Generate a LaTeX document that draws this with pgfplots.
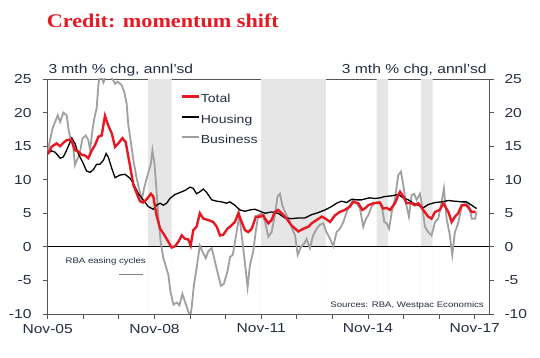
\documentclass[border=0pt]{standalone}
\usepackage{pgfplots}
\pgfplotsset{compat=1.18}
\usepackage{fontspec}
\setmainfont[FakeStretch=1.2]{Liberation Sans}
\newfontfamily\titlefont[FakeStretch=1.15]{Liberation Serif}
\definecolor{wred}{RGB}{230,25,35}
\definecolor{wgray}{RGB}{160,160,160}
\definecolor{shade}{RGB}{230,230,230}
\definecolor{txt}{RGB}{35,45,65}
\definecolor{axc}{RGB}{85,85,85}

\pgfplotstableread{
m v
0 13.8
1.3 14.9
3 15.4
4.2 15.0
5.3 15.5
6.4 15.9
7.9 16.0
9.2 14.4
10.3 14.2
11.5 13.7
12.6 13.6
13.7 13.2
14.8 14.3
16 15.2
17.1 16.4
18.2 16.6
19.3 19.5
20.4 18.1
21.6 16.9
22.7 14.9
23.8 15.4
25.2 16.2
26.3 15.6
27.2 13.4
28.1 11.2
28.9 9.2
30 8.0
31.1 6.8
32.2 6.6
33.4 7.1
34.8 7.9
35.6 7.5
36.7 4.7
37.9 2.7
39 2.0
40.1 1.2
41.8 -0.1
42.9 0.1
44 0.7
45.2 1.7
46.3 1.2
47.4 1.1
48.2 0.2
49.1 2.5
50.2 3.0
51.3 5.0
52.5 4.2
54.1 4.0
55.8 3.7
57 3.0
58.1 1.7
59.2 1.8
60.6 2.7
62 3.2
63.1 3.7
64.3 5.0
65.4 3.7
66.5 2.5
67.6 2.2
68.8 2.7
70.2 4.5
71.6 4.5
72.7 4.7
73.3 4.2
74.4 3.5
75.5 4.0
76.6 5.2
77.7 5.5
78.9 5.0
80.6 4.2
82.2 3.2
84.5 2.3
86.2 2.7
87.9 3.0
89 3.5
90.7 4.0
92.4 4.5
93.7 4.2
95.2 3.7
96.9 4.7
98.5 5.2
100.2 5.5
101.9 6.0
103 6.7
104.7 6.5
106.1 5.5
107.2 5.8
108.1 6.2
109.8 6.5
112 6.6
113.1 5.7
114.3 5.8
115.4 5.5
117.1 6.5
118.2 7.7
118.8 8.2
119.9 7.5
121 6.5
122.7 6.5
123.8 6.2
125 6.5
126.6 5.5
128.3 4.5
129.4 4.2
130.6 5.2
132.2 5.5
133.4 6.5
135.1 5.2
136.2 3.7
137.3 4.5
138.4 5.0
139.6 6.2
141.2 6.2
143 5.2
144.3 5.2
}\total

\pgfplotstableread{
m v
0 13.9
1.3 14.3
2.5 14.1
4.2 13.2
5.3 13.4
6.4 14.4
8.1 16.2
9.2 15.4
10.3 13.9
12 12.4
13.1 11.3
14.3 11.1
15.4 11.5
16.5 12.3
17.6 12.3
18.8 12.9
19.7 13.9
20.4 13.4
21.6 11.7
22.7 10.3
24.4 10.7
26.1 10.8
27.8 10.2
28.9 9.4
30.6 7.9
32.2 7.0
33.9 6.0
35.6 5.6
36.7 6.2
37.9 6.5
39 6.2
40.1 6.5
41.2 7.2
42.9 7.8
44.6 8.1
46.3 8.4
48 8.9
49.1 8.7
50.2 7.9
51.3 8.2
52.5 8.6
53.6 8.1
55.3 7.0
57 6.8
58.6 6.7
60.3 6.5
61.4 6.7
63.1 6.2
64.8 5.5
66.5 5.3
68.2 5.5
69.9 5.6
71.6 5.3
73.3 5.0
75.5 5.2
77.7 5.0
80 4.3
82.2 4.2
84.5 4.3
86.7 4.3
89 4.8
91.2 5.1
93.5 5.5
95.7 6.0
97.4 6.5
99.1 6.8
100.8 6.6
102.5 7.1
104.2 7.0
105.8 7.0
107.5 7.2
108.6 7.3
110.3 7.2
112 7.3
113.7 7.5
116 7.6
118.2 7.8
119.9 7.3
121.6 7.0
123.3 6.5
125 6.2
126.6 5.8
128.3 6.3
130.6 6.6
132.8 6.7
135.1 6.9
137.3 6.8
139.6 6.7
141.2 6.7
143 6.2
144.6 5.7
}\housing

\pgfplotstableread{
m v
0 14.2
0.8 15.9
1.6 17.6
2.5 18.6
3.4 19.6
4.2 18.6
5.3 20.0
6.4 19.6
7 17.6
7.5 16.4
8.3 16.1
9.2 12.2
9.8 12.9
10.7 13.7
11.7 16.1
12.8 16.6
13.7 15.9
14.3 14.4
15.1 17.4
15.7 19.1
16.5 20.6
17.1 24.1
17.6 26.0
18.8 24.5
19.9 26.0
21 25.8
21.6 25.2
22.7 24.3
23.6 24.6
24.9 24.1
25.8 23.1
26.6 21.4
27.2 18.1
28.1 15.4
28.9 12.9
30 10.2
30.8 8.7
31.7 7.0
32.6 8.9
33.7 10.7
34.8 12.4
35.3 14.4
36 12.4
36.6 9.0
37.3 4.5
38.1 0.7
39 -1.7
39.9 -3.0
40.7 -4.2
41.4 -6.7
42.4 -8.6
43.5 -8.3
44.4 -8.7
45.4 -7.0
46.3 -8.2
47.1 -9.2
48 -10.5
48.5 -9.2
49.3 -5.7
50.2 -3.2
51.3 0.2
52.2 -0.7
53.3 -1.7
54.1 -0.7
55.3 -0.2
56.4 -2.2
57.5 -4.2
58.4 -5.8
59.4 -5.5
60.6 -3.7
61.5 -1.5
62.4 -1.2
63.5 1.7
64.6 4.7
65.7 0.7
66.7 -3.2
67.4 -6.0
68.2 -2.7
69.3 -0.7
70.2 2.5
71 4.7
72.1 5.0
73.3 3.7
74.4 1.5
75.5 2.2
76.6 4.7
77.5 7.5
78.3 7.9
79.1 6.2
80 5.2
81.1 4.2
82.2 3.0
83.4 1.7
84.3 -1.2
85.4 0.0
86.5 0.5
87.3 1.2
88.4 -0.2
89.5 1.7
90.7 2.7
91.8 3.3
92.9 3.5
94 2.2
95.2 1.2
96.3 0.1
97.4 2.2
98.5 2.7
99.7 3.7
100.8 5.2
101.9 6.2
103 7.0
104.2 6.5
105.3 5.7
106.4 3.0
107.3 4.2
108.1 4.7
109.2 6.0
110.3 6.5
111.5 6.7
112.6 6.2
113.5 3.7
114.3 3.5
115.1 2.7
116 5.2
117.1 7.2
118.2 10.7
119.1 11.2
119.9 9.2
120.7 6.7
121.8 4.5
122.7 7.7
123.6 7.9
124.4 7.0
125.5 7.9
126.3 6.0
127.2 3.0
128.3 2.2
129.4 1.7
130.6 3.7
131.7 4.2
132.8 6.7
133.6 8.7
134.5 4.2
135.6 1.7
136.4 -1.2
137.3 2.2
138.4 3.5
139.6 6.0
140.7 6.5
141.8 6.5
143 4.2
144.1 4.2
144.6 5.2
}\business

\begin{document}
\begin{tikzpicture}
\useasboundingbox (0pt,0pt) rectangle (540pt,358pt);
\node[anchor=base west, font=\titlefont\bfseries\fontsize{19.3}{22}\selectfont, text=wred, inner sep=0pt] at (46.7pt,330pt) {Credit: momentum shift};
\node[anchor=base west, font=\fontsize{13}{15}\selectfont, text=txt, inner sep=0pt] at (48.3pt,284.7pt) {3 mth \% chg, annl’sd};
\node[anchor=base east, font=\fontsize{13}{15}\selectfont, text=txt, inner sep=0pt] at (486.7pt,284.7pt) {3 mth \% chg, annl’sd};
\begin{axis}[
  at={(47.7pt,44pt)}, anchor=south west,
  scale only axis, width=441.6pt, height=235pt,
  xmin=0, xmax=148.9, ymin=-10, ymax=25,
  ytick={-10,-5,...,25},
  xtick={0,12,...,144},
  xticklabels={Nov-05,,,Nov-08,,,Nov-11,,,Nov-14,,,Nov-17},
  tick align=outside, tick pos=left,
  major tick length=5pt,
  axis line style={axc, line width=0.8pt},
  every tick/.style={axc, line width=0.8pt},
  /pgf/number format/assume math mode=true,
  ticklabel style={font=\fontsize{13}{15}\selectfont, text=txt},
  yticklabel style={inner sep=0pt, xshift=-11pt},
  xticklabel style={yshift=-1.5pt},
  legend style={draw=none, fill=none, at={(0.2996,0.94)}, anchor=north west,
    inner sep=0pt, row sep=7.5pt, font=\fontsize{11.7}{13}\selectfont, text=txt,
    nodes={text height=8.5pt, text depth=2.5pt, inner sep=1pt},
    /tikz/every even column/.append style={column sep=0pt}},
  legend cell align=left,
  legend image code/.code={\draw[#1] (0pt,0.35em) -- (17pt,0.35em);},
]
\addplot[fill=shade, draw=none, forget plot] coordinates {(33.9,-10) (33.9,25) (41.8,25) (41.8,-10)} \closedcycle;
\addplot[fill=shade, draw=none, forget plot] coordinates {(71.9,-10) (71.9,25) (93.8,25) (93.8,-10)} \closedcycle;
\addplot[fill=shade, draw=none, forget plot] coordinates {(110.9,-10) (110.9,25) (114.8,25) (114.8,-10)} \closedcycle;
\addplot[fill=shade, draw=none, forget plot] coordinates {(125.8,-10) (125.8,25) (129.8,25) (129.8,-10)} \closedcycle;
\addplot[black, line width=0.8pt, forget plot] coordinates {(0,0) (148.9,0)};
\addlegendimage{wred, line width=2.6pt}
\addlegendentry{Total}
\addlegendimage{black, line width=1.6pt}
\addlegendentry{Housing}
\addlegendimage{wgray, line width=1.8pt}
\addlegendentry{Business}
\addplot[wgray, line width=1.8pt, forget plot] table[x=m,y=v] {\business};
\addplot[black, line width=1.3pt, forget plot] table[x=m,y=v] {\housing};
\addplot[wred, line width=2.4pt, forget plot] table[x=m,y=v] {\total};
\node[font=\fontsize{8}{9}\selectfont, text=txt] at (axis cs:19.55,-2.13) {RBA easing cycles};
\draw[gray, line width=0.8pt] (axis cs:24.1,-4.1) -- (axis cs:32,-4.1);
\node[anchor=east, font=\fontsize{8}{9}\selectfont, text=txt, inner sep=0pt] at (axis cs:147.1,-8.69) {Sources: RBA, Westpac Economics};
\end{axis}
\begin{axis}[
  at={(47.7pt,44pt)}, anchor=south west,
  scale only axis, width=441.6pt, height=235pt,
  xmin=0, xmax=148.9, ymin=-10, ymax=25,
  ytick={-10,-5,...,25},
  axis x line=none, axis y line*=right,
  tick align=outside,
  major tick length=5pt,
  axis line style={axc, line width=0.8pt, -},
  every tick/.style={axc, line width=0.8pt},
  /pgf/number format/assume math mode=true,
  ticklabel style={font=\fontsize{13}{15}\selectfont, text=txt},
  yticklabel style={inner sep=0pt, xshift=10pt},
]
\end{axis}
\end{tikzpicture}
\end{document}
